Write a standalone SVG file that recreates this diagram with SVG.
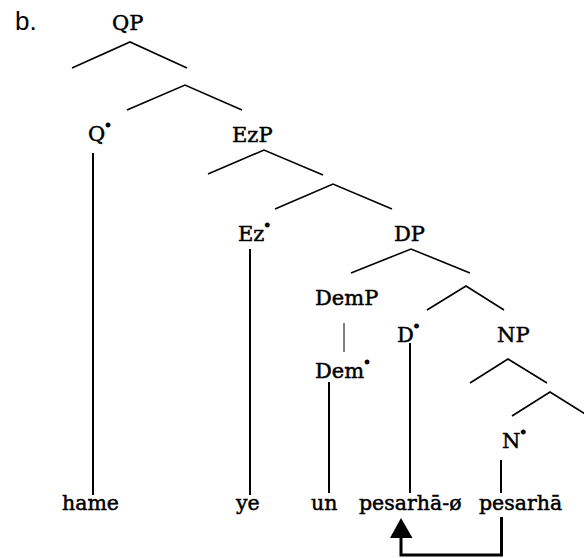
<svg xmlns="http://www.w3.org/2000/svg" width="584" height="558" viewBox="0 0 584 558">
<style>
.lbl{font-family:"DejaVu Serif","Liberation Serif",serif;font-size:21px;fill:#000;stroke:#000;stroke-width:0.5}
.word{font-family:"DejaVu Serif","Liberation Serif",serif;font-size:20.5px;fill:#000;stroke:#000;stroke-width:0.5}
.deg{font-size:11px;stroke:#000;stroke-width:1.4}
.br{fill:none;stroke:#000;stroke-width:1.6;stroke-linejoin:miter}
.vl{stroke:#000;stroke-width:2;fill:none}
.thin{stroke:#000;stroke-width:1;fill:none}
.mv{fill:none;stroke:#000;stroke-width:3}
</style>
<rect width="584" height="558" fill="#fff"/>
<text x="15" y="30" style="font-family:'Liberation Sans',Arial,sans-serif;font-size:26px">b.</text>

<g id="connectors">
<polyline class="br" points="72,68 130,42 187,68"/>
<polyline class="br" points="127,110 185,85 242,110"/>
<polyline class="br" points="208,174 264,150 323,175"/>
<polyline class="br" points="275,209 333,184 392,209"/>
<polyline class="br" points="351,273 411,249 470,273"/>
<polyline class="br" points="427,310 466,286 504,310"/>
<polyline class="br" points="470,383 508,359 547,383"/>
<polyline class="br" points="512,416 550,392 590,417"/>
<line class="vl" x1="93" y1="153" x2="93" y2="495"/>
<line class="vl" x1="250" y1="249" x2="250" y2="495"/>
<line class="thin" x1="344" y1="323" x2="344" y2="352"/>
<line class="vl" x1="329" y1="382" x2="329" y2="493"/>
<line class="vl" x1="410" y1="343" x2="410" y2="493"/>
<line class="vl" x1="501" y1="460" x2="501" y2="493"/>
<polyline class="mv" points="501.5,517 501.5,555 401,555 401,536"/>
<polygon points="401,518 390,538 412.5,538" fill="#000"/>
</g>

<g id="QP"><text class="lbl" x="112" y="30">QP</text></g>
<g id="Q0"><text class="lbl" x="88" y="141">Q<tspan class="deg" dy="-9">°</tspan></text></g>
<g id="EzP"><text class="lbl" x="232" y="142">EzP</text></g>
<g id="Ez0"><text class="lbl" x="238" y="241">Ez<tspan class="deg" dy="-9">°</tspan></text></g>
<g id="DP"><text class="lbl" x="394" y="241">DP</text></g>
<g id="DemP"><text class="lbl" x="315" y="305">DemP</text></g>
<g id="D0"><text class="lbl" x="397" y="342">D<tspan class="deg" dy="-9">°</tspan></text></g>
<g id="NP"><text class="lbl" x="497" y="342">NP</text></g>
<g id="Dem0"><text class="lbl" x="315" y="378">Dem<tspan class="deg" dy="-9">°</tspan></text></g>
<g id="N0"><text class="lbl" x="502" y="448">N<tspan class="deg" dy="-9">°</tspan></text></g>

<g id="hame"><text class="word" x="62" y="510">hame</text></g>
<g id="ye"><text class="word" x="236" y="510">ye</text></g>
<g id="un"><text class="word" x="311" y="510">un</text></g>
<g id="pesarha-null"><text class="word" x="359" y="510">pesarhā-ø</text></g>
<g id="pesarha"><text class="word" x="479" y="510">pesarhā</text></g>
</svg>
